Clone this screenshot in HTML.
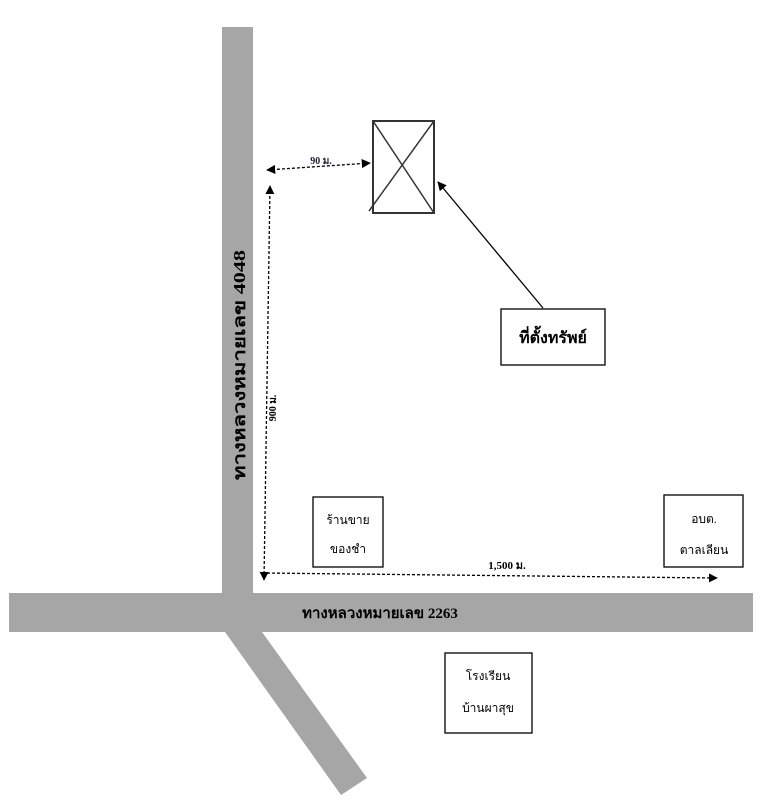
<!DOCTYPE html>
<html><head><meta charset="utf-8"><style>
html,body{margin:0;padding:0;background:#fff;}
svg{display:block;font-family:"Liberation Serif","DejaVu Sans",serif;}
</style></head><body>
<svg width="761" height="800" viewBox="0 0 761 800" xmlns="http://www.w3.org/2000/svg">
<defs>
<marker id="a" viewBox="0 0 10 10" refX="9" refY="5" markerWidth="7" markerHeight="7" orient="auto-start-reverse"><path d="M0,0 L10,5 L0,10 z" fill="#000"/></marker>
</defs>
<rect width="761" height="800" fill="#fff"/>
<rect x="222" y="27" width="31" height="570" fill="#a6a6a6"/>
<rect x="9" y="593" width="744" height="39" fill="#a6a6a6"/>
<polygon points="225,632 262,632 367,778 341,795" fill="#a6a6a6"/>
<text transform="translate(245,365) rotate(-90)" font-size="17" font-weight="bold" text-anchor="middle" textLength="230" lengthAdjust="spacingAndGlyphs">ทางหลวงหมายเลข 4048</text>
<text x="380" y="618" font-size="15" font-weight="bold" text-anchor="middle">ทางหลวงหมายเลข 2263</text>
<rect x="373" y="121" width="61" height="92" fill="none" stroke="#333" stroke-width="2"/>
<line x1="373" y1="121" x2="434" y2="213" stroke="#333" stroke-width="1.5"/>
<line x1="434" y1="121" x2="369" y2="211" stroke="#333" stroke-width="1.5"/>
<line x1="267" y1="170" x2="370" y2="163" stroke="#000" stroke-width="1.3" stroke-dasharray="3,2" marker-start="url(#a)" marker-end="url(#a)"/>
<text x="321" y="164" font-size="10" font-weight="bold" text-anchor="middle" fill="#223">90 ม.</text>
<line x1="270" y1="186" x2="264" y2="580" stroke="#000" stroke-width="1.3" stroke-dasharray="3,2" marker-start="url(#a)" marker-end="url(#a)"/>
<text transform="translate(276,408) rotate(-90)" font-size="10" font-weight="bold" text-anchor="middle">900 ม.</text>
<line x1="262" y1="573" x2="717" y2="578" stroke="#000" stroke-width="1.3" stroke-dasharray="3,2" marker-end="url(#a)"/>
<text x="507" y="569" font-size="11" font-weight="bold" text-anchor="middle">1,500 ม.</text>
<line x1="543" y1="308" x2="438" y2="182" stroke="#000" stroke-width="1.3" marker-end="url(#a)"/>
<rect x="501" y="309" width="104" height="56" fill="#fff" stroke="#000" stroke-width="1.3"/>
<text x="553" y="343" font-size="16" font-weight="bold" text-anchor="middle">ที่ตั้งทรัพย์</text>
<rect x="313" y="497" width="70" height="70" fill="#fff" stroke="#000" stroke-width="1.3"/>
<text x="348" y="524" font-size="12" text-anchor="middle">ร้านขาย</text>
<text x="348" y="553" font-size="12" text-anchor="middle">ของชำ</text>
<rect x="664" y="495" width="79" height="72" fill="#fff" stroke="#000" stroke-width="1.3"/>
<text x="704" y="523" font-size="12" text-anchor="middle">อบต.</text>
<text x="704" y="554" font-size="12" text-anchor="middle">ตาลเลียน</text>
<rect x="445" y="653" width="87" height="80" fill="#fff" stroke="#000" stroke-width="1.3"/>
<text x="488" y="680" font-size="12" text-anchor="middle">โรงเรียน</text>
<text x="488" y="712" font-size="12" text-anchor="middle">บ้านผาสุข</text>
</svg>
</body></html>
